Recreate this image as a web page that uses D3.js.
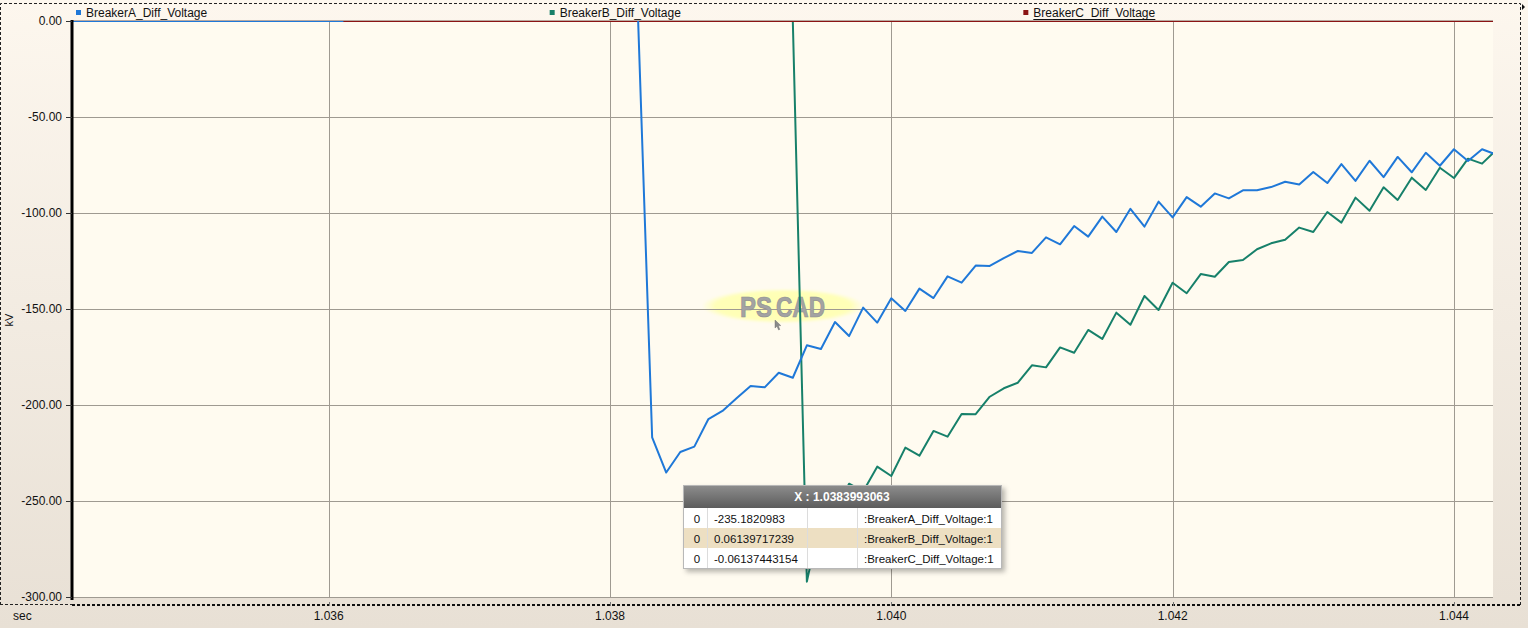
<!DOCTYPE html>
<html><head><meta charset="utf-8">
<script src="https://cdn.jsdelivr.net/npm/d3@7"></script>
<style>
html,body{margin:0;padding:0;background:#f3ede4;}
svg{display:block;font-family:"Liberation Sans",Arial,sans-serif;}
</style></head><body>
<svg id="chart" width="1528" height="628"></svg>
<script>
// ---------------- data ----------------
const seriesNames = ["BreakerA_Diff_Voltage", "BreakerB_Diff_Voltage", "BreakerC_Diff_Voltage"];
const seriesColors = ["#1f78d8", "#17806a", "#8b1414"];
const xTicks = [1.036, 1.038, 1.040, 1.042, 1.044];
const yTicks = [0, -50, -100, -150, -200, -250, -300];
const xDomain = [1.034175, 1.044277];
const yDomain = [-300, 0];

// uniformly sampled part (dt = 100 us), first sample at t = 1.0381993
const sampleStart = 1.0381993;
const sampleStep = 0.0001;

// samples before the uniform block (A is off-scale above 0 kV between 1.0361 and 1.0381)
const earlyTimes = [1.0340993, 1.0360993, 1.0361993, 1.0380993];
const breakerAEarly = [0, 0, 60, 60];
const breakerBEarly = [0.06, 0.06, 0.06, 0.06];

const breakerA = [
  1, -216.8, -235.18, -224.5, -221.7, -207.3, -203.1, -196.5, -190.1, -190.8,
  -183.2, -185.8, -168.9, -170.8, -156.8, -164.1, -149.3, -157.1, -144.4, -151.0,
  -139.4, -144.3, -133.0, -136.3, -127.4, -127.6, -123.5, -119.8, -120.8, -112.7,
  -116.3, -106.8, -112.3, -101.9, -109.9, -97.8, -107.1, -94.1, -102.3, -91.7,
  -96.7, -89.8, -92.4, -88.2, -88.2, -86.5, -83.7, -85.2, -78.6, -84.4,
  -74.5, -83.3, -72.8, -81.3, -70.8, -78.8, -68.6, -75.4, -66.8, -72.9,
  -66.8, -69.6
];
const breakerB = [
  0.06, 0.06, 0.0614, 0.06, 0.06, 0.06, 0.06, 0.06, 0.06, 0.06,
  0.06, 0.06, -292.0, -258.0, -256.0, -241.0, -245.0, -232.1, -237.0, -222.2,
  -226.4, -213.5, -216.5, -204.7, -204.8, -195.7, -191.3, -188.4, -179.3, -180.4,
  -170.0, -172.8, -160.9, -165.6, -151.9, -158.2, -143.2, -150.5, -136.3, -141.8,
  -131.8, -133.2, -125.5, -124.5, -118.9, -115.8, -113.9, -107.6, -109.9, -99.5,
  -105.0, -92.0, -98.8, -86.6, -93.2, -81.6, -88.0, -76.4, -81.8, -71.7,
  -74.3, -67.2
];
const breakerCTimes = [1.0340993, 1.0383993, 1.0442993];
const breakerC = [-0.06, -0.06137443154, -0.06];

// tooltip contents
const tooltipX = "1.0383993063";
const tooltipIndex = ["0", "0", "0"];
const tooltipValues = ["-235.1820983", "0.06139717239", "-0.06137443154"];

// ---------------- drawing ----------------
const W = 1528, H = 628;
const P = {left: 72, right: 1493, top: 21, bottom: 597};
const svg = d3.select("#chart");
const defs = svg.append("defs");

const bg = defs.append("linearGradient").attr("id", "bg").attr("x1", 0).attr("y1", 0).attr("x2", 0).attr("y2", 1);
bg.append("stop").attr("offset", "0%").attr("stop-color", "#fdf7ee");
bg.append("stop").attr("offset", "100%").attr("stop-color", "#e8e0d5");
const hd = defs.append("linearGradient").attr("id", "hd").attr("x1", 0).attr("y1", 0).attr("x2", 0).attr("y2", 1);
hd.append("stop").attr("offset", "0%").attr("stop-color", "#8e8e8e");
hd.append("stop").attr("offset", "100%").attr("stop-color", "#5c5c5c");
const glow = defs.append("radialGradient").attr("id", "glow");
glow.append("stop").attr("offset", "0%").attr("stop-color", "#ffffb0").attr("stop-opacity", 1);
glow.append("stop").attr("offset", "85%").attr("stop-color", "#ffffb8").attr("stop-opacity", 1);
glow.append("stop").attr("offset", "100%").attr("stop-color", "#ffffc8").attr("stop-opacity", 0.2);
defs.append("filter").attr("id", "blur").attr("x", "-20%").attr("y", "-20%").attr("width", "140%").attr("height", "140%")
  .append("feGaussianBlur").attr("stdDeviation", 2.5);
defs.append("filter").attr("id", "soft").attr("x", "-20%").attr("y", "-40%").attr("width", "140%").attr("height", "180%")
  .append("feGaussianBlur").attr("stdDeviation", 1.2);
defs.append("clipPath").attr("id", "plotClip").append("rect")
  .attr("x", P.left).attr("y", P.top).attr("width", P.right - P.left).attr("height", P.bottom - P.top);

svg.append("rect").attr("width", W).attr("height", H).attr("fill", "url(#bg)");

const x = d3.scaleLinear().domain(xDomain).range([P.left, P.right]);
const y = d3.scaleLinear().domain(yDomain).range([P.bottom, P.top]);

// plot area
svg.append("rect").attr("x", P.left).attr("y", P.top).attr("width", P.right - P.left).attr("height", P.bottom - P.top)
  .attr("fill", "#fffbf0");

// watermark glow (under the grid)
svg.append("ellipse").attr("cx", 783).attr("cy", 306).attr("rx", 80).attr("ry", 17)
  .attr("fill", "url(#glow)").attr("filter", "url(#soft)");

// grid
const grid = svg.append("g").attr("stroke", "#9f9a91").attr("stroke-width", 1);
grid.selectAll("line.v").data(xTicks).join("line").attr("class", "v")
  .attr("x1", d => Math.round(x(d)) + 0.5).attr("x2", d => Math.round(x(d)) + 0.5)
  .attr("y1", P.top).attr("y2", P.bottom);
grid.selectAll("line.h").data(yTicks).join("line").attr("class", "h")
  .attr("x1", P.left).attr("x2", P.right)
  .attr("y1", d => Math.round(y(d)) + 0.5).attr("y2", d => Math.round(y(d)) + 0.5);

// watermark text
const wm = svg.append("g").attr("font-family", "'Liberation Sans Narrow', 'Liberation Sans', Arial, sans-serif")
  .attr("font-weight", "bold").attr("font-size", 29).attr("fill", "#a3a3a3")
  .attr("stroke", "#909090").attr("stroke-width", 0.7);
wm.append("text").attr("x", 740).attr("y", 317).attr("textLength", 32).attr("lengthAdjust", "spacingAndGlyphs").text("PS");
wm.append("text").attr("x", 776).attr("y", 317).attr("textLength", 49).attr("lengthAdjust", "spacingAndGlyphs").text("CAD");
svg.append("path").attr("d", "M775,320 L775,328 L777,326.3 L778.6,330 L779.8,329.4 L778.3,325.8 L780.8,325.6 Z")
  .attr("fill", "#8a8a8a").attr("stroke", "#666").attr("stroke-width", 0.4);

// series
const earlyA = earlyTimes.map((t, i) => [t, breakerAEarly[i]]);
const earlyB = earlyTimes.map((t, i) => [t, breakerBEarly[i]]);
const sampledA = breakerA.map((v, i) => [sampleStart + i * sampleStep, v]);
const sampledB = breakerB.map((v, i) => [sampleStart + i * sampleStep, v]);
const seriesA = earlyA.concat(sampledA);
const seriesB = earlyB.concat(sampledB);
const seriesC = breakerCTimes.map((t, i) => [t, breakerC[i]]);

const line = d3.line().x(d => x(d[0])).y(d => y(d[1]));
const lines = svg.append("g").attr("clip-path", "url(#plotClip)").attr("fill", "none")
  .attr("stroke-width", 2).attr("stroke-linejoin", "round");
lines.append("path").datum(seriesB).attr("d", line).attr("stroke", seriesColors[1]);
lines.append("path").datum(seriesC).attr("d", line).attr("stroke", seriesColors[2]);
lines.append("path").datum(seriesA).attr("d", line).attr("stroke", seriesColors[0]);

// top border of plot
svg.append("line").attr("x1", P.left).attr("x2", P.right).attr("y1", P.top - 0.5).attr("y2", P.top - 0.5)
  .attr("stroke", "#b9a9a0").attr("stroke-width", 1);

// y axis
const yAxis = svg.append("g").attr("transform", `translate(${P.left},0)`)
  .call(d3.axisLeft(y).tickValues(yTicks).tickFormat(d => d.toFixed(2)).tickSize(6).tickSizeOuter(0).tickPadding(4));
yAxis.select(".domain").attr("stroke", "#000").attr("stroke-width", 3).attr("d", `M0,${P.top - 1}V${P.bottom + 3}`);
yAxis.selectAll(".tick line").attr("stroke", "#333");
yAxis.selectAll(".tick text").attr("font-size", 12).attr("fill", "#111").attr("font-family", "Liberation Sans, Arial, sans-serif");

svg.append("text").attr("transform", "translate(13,320) rotate(-90)").attr("text-anchor", "middle")
  .attr("font-size", 11).attr("fill", "#111").text("kV");

// x axis (dashed)
svg.append("line").attr("x1", P.left).attr("x2", 1521).attr("y1", 605).attr("y2", 605)
  .attr("stroke", "#111").attr("stroke-width", 2).attr("stroke-dasharray", "3,2");
svg.append("g").selectAll("line").data(xTicks).join("line")
  .attr("x1", d => Math.round(x(d)) + 0.5).attr("x2", d => Math.round(x(d)) + 0.5)
  .attr("y1", 602).attr("y2", 606).attr("stroke", "#777");
svg.append("g").selectAll("text").data(xTicks).join("text")
  .attr("x", d => x(d)).attr("y", 620).attr("text-anchor", "middle").attr("font-size", 12).attr("fill", "#111")
  .text(d => d.toFixed(3));
svg.append("text").attr("x", 13).attr("y", 620).attr("font-size", 12).attr("fill", "#111").text("sec");

// dotted outer frame
svg.append("path").attr("d", `M0.5,${605}V3.5H1520.5V605`).attr("fill", "none")
  .attr("stroke", "#222").attr("stroke-width", 1).attr("stroke-dasharray", "3,2");
svg.append("line").attr("x1", 0).attr("x2", P.left).attr("y1", 604.5).attr("y2", 604.5)
  .attr("stroke", "#222").attr("stroke-width", 1).attr("stroke-dasharray", "3,2");
svg.append("path").attr("d", "M1522,4 L1525,7 L1522,10 Z").attr("fill", "#111");

// legend
const legW = (P.right - P.left) / 3;
const leg = svg.append("g").selectAll("g").data(seriesNames).join("g")
  .attr("transform", (d, i) => `translate(${P.left + 4 + i * legW},0)`);
leg.append("rect").attr("x", 0).attr("y", 10).attr("width", 5).attr("height", 5).attr("fill", (d, i) => seriesColors[i]);
leg.append("text").attr("x", 10).attr("y", 17).attr("font-size", 12).attr("fill", "#111").text(d => d);
leg.filter((d, i) => i === 2).append("line").attr("x1", 10).attr("x2", 132).attr("y1", 19.5).attr("y2", 19.5)
  .attr("stroke", "#111").attr("stroke-width", 1);

// tooltip
const tt = svg.append("g").attr("transform", "translate(683,485)");
const tW = 319, hdH = 23, rowH = 20;
tt.append("rect").attr("x", 3).attr("y", 3).attr("width", tW).attr("height", hdH + 3 * rowH + 1)
  .attr("fill", "rgba(0,0,0,0.28)").attr("filter", "url(#blur)");
tt.append("rect").attr("width", tW).attr("height", hdH).attr("fill", "url(#hd)");
tt.append("text").attr("x", 159).attr("y", 16).attr("text-anchor", "middle").attr("font-weight", "bold")
  .attr("font-size", 12).attr("fill", "#fff").text("X : " + tooltipX);
const rows = tt.selectAll("g.row").data(seriesNames).join("g").attr("class", "row")
  .attr("transform", (d, i) => `translate(0,${hdH + i * rowH})`);
rows.append("rect").attr("width", tW).attr("height", rowH).attr("fill", (d, i) => i === 1 ? "#eddfc2" : "#ffffff");
rows.append("text").attr("x", 14).attr("y", 14.5).attr("text-anchor", "middle").attr("font-size", 11.5).attr("fill", "#111")
  .text((d, i) => tooltipIndex[i]);
rows.append("text").attr("x", 31).attr("y", 14.5).attr("font-size", 11.5).attr("fill", "#111")
  .text((d, i) => tooltipValues[i]);
rows.append("text").attr("x", 181).attr("y", 14.5).attr("font-size", 11.5).attr("fill", "#111")
  .text(d => ":" + d + ":1");
const colX = [24.5, 124.5, 174.5];
tt.selectAll("line.col").data(colX).join("line").attr("class", "col")
  .attr("x1", d => d).attr("x2", d => d).attr("y1", hdH).attr("y2", hdH + 3 * rowH).attr("stroke", "#dcdcdc");
tt.append("rect").attr("x", 0.5).attr("y", 0.5).attr("width", tW - 1).attr("height", hdH + 3 * rowH)
  .attr("fill", "none").attr("stroke", "#b8b8b8");
</script>
</body></html>
